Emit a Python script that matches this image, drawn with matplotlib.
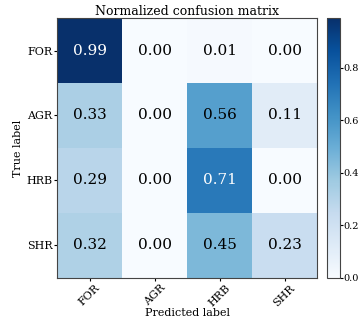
import numpy as np
import matplotlib
matplotlib.use("Agg")
import matplotlib.pyplot as plt

plt.rcParams['font.family'] = 'DejaVu Serif'

classes = ["FOR", "AGR", "HRB", "SHR"]
row_FOR = [0.99, 0.00, 0.01, 0.00]
row_AGR = [0.33, 0.00, 0.56, 0.11]
row_HRB = [0.29, 0.00, 0.71, 0.00]
row_SHR = [0.32, 0.00, 0.45, 0.23]
cm = np.array([row_FOR, row_AGR, row_HRB, row_SHR])

fig = plt.figure(figsize=(3.64, 3.22), dpi=100)
ax = fig.add_axes([0.157, 0.137, 0.714, 0.807])
cax = fig.add_axes([0.898, 0.137, 0.036, 0.807])

im = ax.imshow(cm, interpolation='nearest', cmap=plt.cm.Blues, aspect='auto')
ax.set_title("Normalized confusion matrix", fontsize=9, pad=2)
cb = fig.colorbar(im, cax=cax)
cb.ax.tick_params(labelsize=7, length=2, pad=0.5)
cb.outline.set_edgecolor('#444444')

ticks = np.arange(len(classes))
ax.set_xticks(ticks)
ax.set_xticklabels(classes, rotation=45, fontsize=8)
ax.set_yticks(ticks)
ax.set_yticklabels(classes, fontsize=8)
ax.tick_params(length=2.5, pad=1)
for s in ax.spines.values():
    s.set_edgecolor('#444444')

thresh = 0.6
for i in range(cm.shape[0]):
    for j in range(cm.shape[1]):
        ax.text(j, i, format(cm[i, j], '.2f'), ha="center", va="center",
                fontsize=11, color="white" if cm[i, j] > thresh else "black")

ax.set_ylabel('True label', fontsize=8, labelpad=2)
ax.set_xlabel('Predicted label', fontsize=8, labelpad=0)
fig.savefig("out.png", dpi=100)
